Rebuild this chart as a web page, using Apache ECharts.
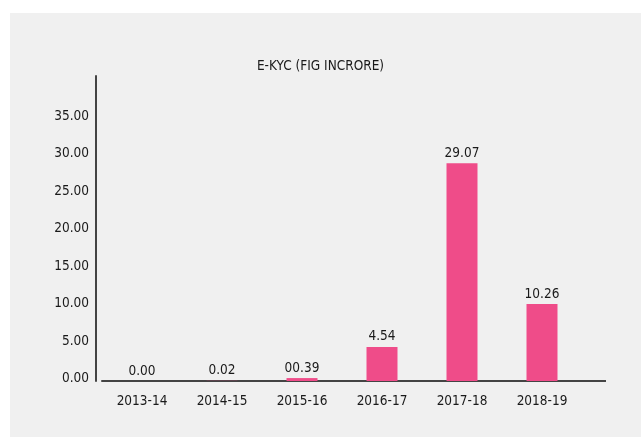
<!DOCTYPE html>
<html>
<head>
<meta charset="utf-8">
<script src="https://cdn.jsdelivr.net/npm/echarts@6/dist/echarts.min.js"></script>
<style>
  html, body { margin: 0; padding: 0; background: #ffffff; }
  #panel { position: absolute; left: 10px; top: 13px; width: 631px; height: 424px; background: #f0f0f0; }
  #chart { position: absolute; left: 0; top: 0; width: 641px; height: 437px; }
</style>
</head>
<body>
<div id="panel"></div>
<div id="chart"></div>
<script>
// Yearly e-KYC figures, in crore
var years = ['2013-14', '2014-15', '2015-16', '2016-17', '2017-18', '2018-19'];
var ekycValues = [0.00, 0.02, 0.39, 4.54, 29.07, 10.26];
var valueLabels = ['0.00', '0.02', '00.39', '4.54', '29.07', '10.26'];
var yTicks = [0, 5, 10, 15, 20, 25, 30, 35];

var FONT = "'DejaVu Sans Condensed', 'Liberation Sans Narrow', 'Roboto', sans-serif";
var TEXT = '#1a1a1a';
var AXIS = '#444444';
var FS = 13.5;

var chart = echarts.init(document.getElementById('chart'), null, { renderer: 'canvas' });

chart.setOption({
  backgroundColor: 'transparent',
  animation: false,
  textStyle: { fontFamily: FONT },
  title: {
    text: 'E-KYC (FIG INCRORE)',
    left: 'center',
    top: 54,
    textStyle: { fontFamily: FONT, fontSize: FS, fontWeight: 'normal', color: TEXT }
  },
  grid: { left: 102, width: 480, top: 76, bottom: 56, containLabel: false },
  xAxis: {
    type: 'category',
    data: years,
    axisLine: { show: true, lineStyle: { color: AXIS, width: 2 } },
    axisTick: { show: false },
    axisLabel: { fontFamily: FONT, fontSize: FS, color: TEXT, margin: 13 }
  },
  yAxis: {
    type: 'value',
    min: 0,
    max: 40.7,
    interval: 5,
    offset: 6,
    splitLine: { show: false },
    axisTick: { show: false },
    axisLine: { show: true, lineStyle: { color: AXIS, width: 2 } },
    axisLabel: {
      fontFamily: FONT, fontSize: FS, color: TEXT, margin: 7,
      verticalAlign: 'bottom',
      lineHeight: 5,
      showMaxLabel: false,
      formatter: function (v) { return yTicks.indexOf(v) >= 0 ? v.toFixed(2) : ''; }
    }
  },
  series: [{
    type: 'bar',
    data: ekycValues,
    barWidth: 31,
    itemStyle: { color: '#EF4C89' },
    label: {
      show: true,
      position: 'top',
      distance: 3,
      fontFamily: FONT,
      fontSize: FS,
      color: TEXT,
      formatter: function (p) { return valueLabels[p.dataIndex]; }
    }
  }],
  graphic: [{
    // carry the baseline on past the last category
    type: 'line',
    shape: { x1: 582, y1: 381, x2: 606, y2: 381 },
    style: { stroke: AXIS, lineWidth: 2 }
  }]
});
</script>
</body>
</html>
